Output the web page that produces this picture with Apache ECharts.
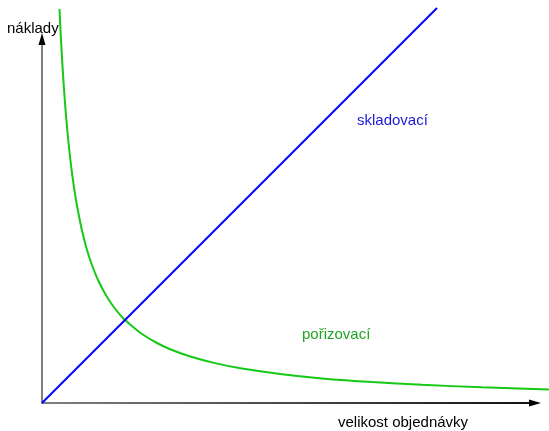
<!DOCTYPE html>
<html>
<head>
<meta charset="utf-8">
<script src="https://cdn.jsdelivr.net/npm/echarts@6/dist/echarts.min.js"></script>
<style>
  html, body { margin: 0; padding: 0; background: #fff; }
  #chart { width: 549px; height: 431px; }
</style>
</head>
<body>
<div id="chart"></div>
<script>
// Axis titles and curve labels
const yAxisTitle = 'náklady';
const xAxisTitle = 'velikost objednávky';
const holdingLabel = 'skladovací';
const orderingLabel = 'pořizovací';

// Holding (storage) cost: grows linearly with order size
const holdingCost = [[0, 0], [395, 395]];

// Ordering cost: falls off hyperbolically with order size
const orderingCost = [
  [17.5, 394], [19, 363], [21, 329], [23, 300], [25, 276], [27.5, 251],
  [30, 230], [33, 209], [36, 192], [40, 172.5], [45, 153], [50, 138],
  [56, 123], [63, 109.5], [70, 98.5], [80, 86], [90, 77], [100, 69],
  [115, 60], [130, 53], [150, 46], [175, 39.4], [200, 34.5], [240, 28.8],
  [280, 24.6], [330, 20.9], [380, 18.2], [440, 15.7], [507, 13.6]
];

const chart = echarts.init(document.getElementById('chart'), null, { renderer: 'canvas' });

const font = 'Liberation Sans, Arial, sans-serif';
const arrowSize = [7, 12];

function axisBase(extra) {
  return Object.assign({
    type: 'value',
    min: 0,
    splitLine: { show: false },
    axisTick: { show: false },
    axisLabel: { show: false }
  }, extra);
}

chart.setOption({
  animation: false,
  backgroundColor: '#ffffff',
  // grid 0: plotting area for the curves (same 1 unit = 1 px scale as the axes)
  // grid 1: drawn axes with arrowheads
  grid: [
    { left: 42, right: 0, top: 8, bottom: 28 },
    { left: 42, right: 14, top: 39, bottom: 28 }
  ],
  xAxis: [
    axisBase({ gridIndex: 0, max: 507, axisLine: { show: false } }),
    axisBase({
      gridIndex: 1,
      max: 493,
      axisLine: { show: true, lineStyle: {
        color: new echarts.graphic.LinearGradient(0, 0, 1, 0, [
          { offset: 0, color: '#808080' },
          { offset: 1, color: '#111111' }
        ]),
        width: 2 } }
    }),
    // arrowhead only (zero-width line)
    axisBase({
      gridIndex: 1,
      max: 493,
      position: 'bottom',
      axisLine: { show: true, symbol: ['none', 'triangle'], symbolSize: arrowSize,
        lineStyle: { color: '#000000', width: 0 } }
    })
  ],
  yAxis: [
    axisBase({ gridIndex: 0, max: 395, axisLine: { show: false } }),
    axisBase({
      gridIndex: 1,
      max: 364,
      axisLine: { show: true, lineStyle: { color: '#7f7f7f', width: 2 } }
    }),
    axisBase({
      gridIndex: 1,
      max: 364,
      position: 'left',
      axisLine: { show: true, symbol: ['none', 'triangle'], symbolSize: arrowSize,
        lineStyle: { color: '#000000', width: 0 } }
    })
  ],
  series: [
    {
      name: holdingLabel,
      type: 'line',
      xAxisIndex: 0,
      yAxisIndex: 0,
      data: holdingCost,
      clip: false,
      showSymbol: false,
      lineStyle: { color: '#0000ff', width: 2 },
      z: 3
    },
    {
      name: orderingLabel,
      type: 'line',
      xAxisIndex: 0,
      yAxisIndex: 0,
      data: orderingCost,
      smooth: 0.3,
      clip: false,
      showSymbol: false,
      lineStyle: { color: '#16c916', width: 2 },
      z: 2
    }
  ],
  graphic: [
    { type: 'text', left: 7, top: 21, style: { text: yAxisTitle, font: '15px ' + font, fill: '#000000' } },
    { type: 'text', left: 338, top: 415, style: { text: xAxisTitle, font: '15px ' + font, fill: '#000000' } },
    { type: 'text', left: 357, top: 113, style: { text: holdingLabel, font: '15px ' + font, fill: '#1a1ad8' } },
    { type: 'text', left: 302, top: 327, style: { text: orderingLabel, font: '15px ' + font, fill: '#23a323' } }
  ]
});
</script>
</body>
</html>
